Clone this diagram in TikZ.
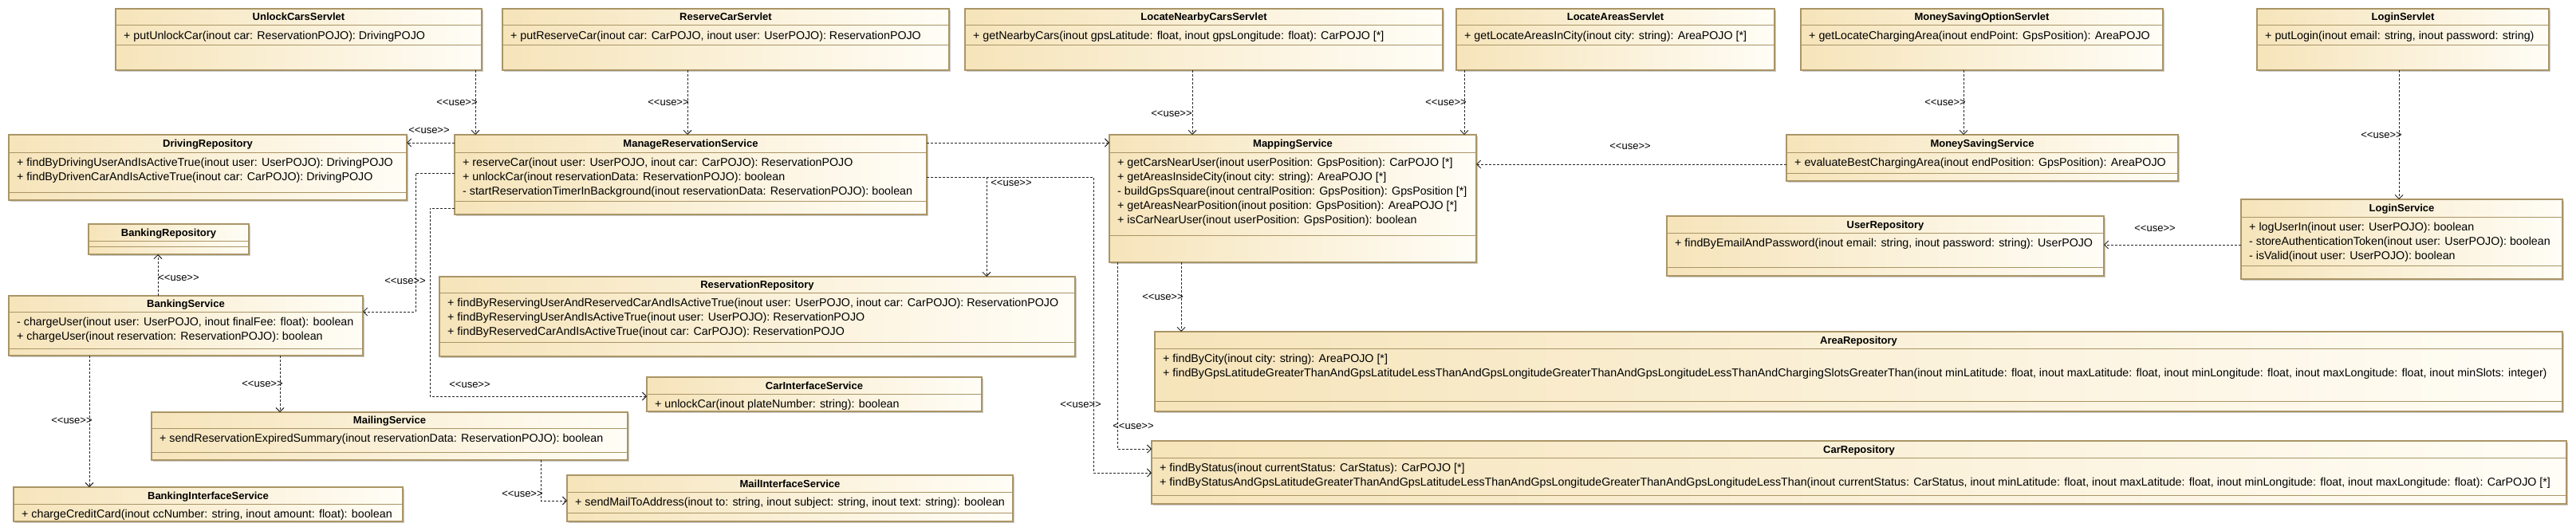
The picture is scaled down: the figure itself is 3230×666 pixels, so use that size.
\documentclass[tikz,border=0pt]{standalone}
\usepackage{fontspec}
\setmainfont{Liberation Sans}[Ligatures=TeXOff]
\usetikzlibrary{arrows.meta}
\definecolor{boxL}{HTML}{F6E4BA}
\definecolor{boxR}{HTML}{FFFDF6}
\definecolor{boxD}{HTML}{AA9566}
\tikzset{
 umlbox/.style={draw=boxD, line width=1.2pt, left color=boxL, right color=boxR, rectangle, inner sep=0pt, outer sep=0pt},
 umlsep/.style={draw=boxD, line width=1pt},
 umlshadow/.style={fill=black!20},
 umltitle/.style={font=\bfseries\fontsize{13}{15}\selectfont, inner sep=0pt},
 umlops/.style={font=\fontsize{14.25}{18}\selectfont, align=left, inner sep=0pt},
 dep/.style={draw=black!85, line width=0.9pt, dash pattern=on 3pt off 2pt, -{Straight Barb[length=5pt,width=10pt,line width=0.9pt]}},
 uselabel/.style={font=\fontsize{13}{13}\selectfont, inner sep=0pt},
}
\newcommand\umlclass[9]{%
  \fill[umlshadow] (#2+2,#3+2) rectangle (#4+2,#5+2);
  \node[umlbox, anchor=north west, minimum width={#4-#2}, minimum height={#5-#3}] (#1) at (#2,#3) {};
  \draw[umlsep] (#2,#6) -- (#4,#6);
  \if\relax\detokenize{#7}\relax\else\draw[umlsep] (#2,#7) -- (#4,#7);\fi
  \node[umltitle, anchor=base] at ({(#2+#4)/2},{(#3+#6)/2+4.5}) {#8};
  \if\relax\detokenize{#9}\relax\else\node[umlops, anchor=north west] at (#2+10,#6+5.5) {\rule{0pt}{12pt}#9};\fi
}
\begin{document}
\begin{tikzpicture}[x=1pt,y=-1pt]
\fill[white] (0,0) rectangle (3230,666);
\useasboundingbox (0,0) rectangle (3230,666);

% ---------- classes ----------
\umlclass{unlock}{145}{11}{604}{88}{32}{57}{UnlockCarsServlet}{+ putUnlockCar(inout car: ReservationPOJO): DrivingPOJO}
\umlclass{reserve}{630}{11}{1190}{88}{32}{57}{ReserveCarServlet}{+ putReserveCar(inout car: CarPOJO, inout user: UserPOJO): ReservationPOJO}
\umlclass{nearby}{1210}{11}{1809}{88}{32}{57}{LocateNearbyCarsServlet}{+ getNearbyCars(inout gpsLatitude: float, inout gpsLongitude: float): CarPOJO [*]}
\umlclass{areas}{1826}{11}{2225}{88}{32}{57}{LocateAreasServlet}{+ getLocateAreasInCity(inout city: string): AreaPOJO [*]}
\umlclass{msopt}{2258}{11}{2712}{88}{32}{57}{MoneySavingOptionServlet}{+ getLocateChargingArea(inout endPoint: GpsPosition): AreaPOJO}
\umlclass{loginsv}{2830}{11}{3196}{88}{32}{57}{LoginServlet}{+ putLogin(inout email: string, inout password: string)}

\umlclass{driving}{11}{169}{510}{251}{191}{241}{DrivingRepository}{+ findByDrivingUserAndIsActiveTrue(inout user: UserPOJO): DrivingPOJO\\+ findByDrivenCarAndIsActiveTrue(inout car: CarPOJO): DrivingPOJO}
\umlclass{mrs}{570}{169}{1162}{269}{191}{252}{ManageReservationService}{+ reserveCar(inout user: UserPOJO, inout car: CarPOJO): ReservationPOJO\\+ unlockCar(inout reservationData: ReservationPOJO): boolean\\- startReservationTimerInBackground(inout reservationData: ReservationPOJO): boolean}
\umlclass{mapping}{1391}{169}{1851}{329}{191}{295}{MappingService}{+ getCarsNearUser(inout userPosition: GpsPosition): CarPOJO [*]\\+ getAreasInsideCity(inout city: string): AreaPOJO [*]\\- buildGpsSquare(inout centralPosition: GpsPosition): GpsPosition [*]\\+ getAreasNearPosition(inout position: GpsPosition): AreaPOJO [*]\\+ isCarNearUser(inout userPosition: GpsPosition): boolean}
\umlclass{mss}{2240}{169}{2731}{227}{191}{217}{MoneySavingService}{+ evaluateBestChargingArea(inout endPosition: GpsPosition): AreaPOJO}
\umlclass{userrepo}{2090}{271}{2638}{346}{292}{335}{UserRepository}{+ findByEmailAndPassword(inout email: string, inout password: string): UserPOJO}
\umlclass{login}{2810}{250}{3213}{350}{272}{333}{LoginService}{+ logUserIn(inout user: UserPOJO): boolean\\- storeAuthenticationToken(inout user: UserPOJO): boolean\\- isValid(inout user: UserPOJO): boolean}
\umlclass{bankrepo}{111}{281}{312}{319}{302}{309}{BankingRepository}{}
\umlclass{bank}{11}{371}{455}{446}{391}{437}{BankingService}{- chargeUser(inout user: UserPOJO, inout finalFee: float): boolean\\+ chargeUser(inout reservation: ReservationPOJO): boolean}
\umlclass{resrepo}{551}{347}{1348}{447}{367}{429}{ReservationRepository}{+ findByReservingUserAndReservedCarAndIsActiveTrue(inout user: UserPOJO, inout car: CarPOJO): ReservationPOJO\\+ findByReservingUserAndIsActiveTrue(inout user: UserPOJO): ReservationPOJO\\+ findByReservedCarAndIsActiveTrue(inout car: CarPOJO): ReservationPOJO}
\umlclass{arearepo}{1448}{416}{3213}{516}{437}{503}{AreaRepository}{+ findByCity(inout city: string): AreaPOJO [*]\\+ findByGpsLatitudeGreaterThanAndGpsLatitudeLessThanAndGpsLongitudeGreaterThanAndGpsLongitudeLessThanAndChargingSlotsGreaterThan(inout minLatitude: float, inout maxLatitude: float, inout minLongitude: float, inout maxLongitude: float, inout minSlots: integer)}
\umlclass{carrepo}{1444}{553}{3218}{632}{574}{621}{CarRepository}{+ findByStatus(inout currentStatus: CarStatus): CarPOJO [*]\\+ findByStatusAndGpsLatitudeGreaterThanAndGpsLatitudeLessThanAndGpsLongitudeGreaterThanAndGpsLongitudeLessThan(inout currentStatus: CarStatus, inout minLatitude: float, inout maxLatitude: float, inout minLongitude: float, inout maxLongitude: float): CarPOJO [*]}
\umlclass{carif}{811}{473}{1231}{516}{494}{}{CarInterfaceService}{+ unlockCar(inout plateNumber: string): boolean}
\umlclass{mailing}{190}{517}{787}{577}{537}{567}{MailingService}{+ sendReservationExpiredSummary(inout reservationData: ReservationPOJO): boolean}
\umlclass{mailif}{711}{596}{1270}{654}{617}{643}{MailInterfaceService}{+ sendMailToAddress(inout to: string, inout subject: string, inout text: string): boolean}
\umlclass{bankif}{17}{611}{505}{654}{632}{}{BankingInterfaceService}{+ chargeCreditCard(inout ccNumber: string, inout amount: float): boolean}

% ---------- helper coordinates ----------
\coordinate (k1) at (596,0);
\coordinate (k2) at (862,0);
\coordinate (k3) at (1495,0);
\coordinate (k4) at (1836,0);
\coordinate (k5) at (2462,0);
\coordinate (k6) at (3008,0);
\coordinate (h7) at (0,206);
\coordinate (h8) at (0,307);
\coordinate (h9) at (0,179);
\coordinate (p10a) at (521,217);
\coordinate (p10b) at (521,391);
\coordinate (p11a) at (539,261);
\coordinate (p11b) at (539,497);
\coordinate (h12) at (0,179);
\coordinate (p13) at (1237,222);
\coordinate (p14a) at (1371,222);
\coordinate (p14b) at (1371,593);
\coordinate (p15) at (1401,563);
\coordinate (k16) at (1481,0);
\coordinate (k17) at (198,0);
\coordinate (k18) at (112,0);
\coordinate (k19) at (351,0);
\coordinate (p20) at (678,628);

% ---------- dependencies ----------
\draw[dep] (unlock.south -| k1) -- (mrs.north -| k1);
\draw[dep] (reserve.south -| k2) -- (mrs.north -| k2);
\draw[dep] (nearby.south -| k3) -- (mapping.north -| k3);
\draw[dep] (areas.south -| k4) -- (mapping.north -| k4);
\draw[dep] (msopt.south -| k5) -- (mss.north -| k5);
\draw[dep] (loginsv.south -| k6) -- (login.north -| k6);
\draw[dep] (mss.west |- h7) -- (mapping.east |- h7);
\draw[dep] (login.west |- h8) -- (userrepo.east |- h8);
\draw[dep] (mrs.west |- h9) -- (driving.east |- h9);
\draw[dep] (mrs.west |- p10a) -- (p10a) -- (p10b) -- (bank.east |- p10b);
\draw[dep] (mrs.west |- p11a) -- (p11a) -- (p11b) -- (carif.west |- p11b);
\draw[dep] (mrs.east |- h12) -- (mapping.west |- h12);
\draw[dep] (mrs.east |- p13) -- (p13) -- (resrepo.north -| p13);
\draw[dep] (mrs.east |- p14a) -- (p14a) -- (p14b) -- (carrepo.west |- p14b);
\draw[dep] (mapping.south -| p15) -- (p15) -- (carrepo.west |- p15);
\draw[dep] (mapping.south -| k16) -- (arearepo.north -| k16);
\draw[dep] (bank.north -| k17) -- (bankrepo.south -| k17);
\draw[dep] (bank.south -| k18) -- (bankif.north -| k18);
\draw[dep] (bank.south -| k19) -- (mailing.north -| k19);
\draw[dep] (mailing.south -| p20) -- (p20) -- (mailif.west |- p20);

% ---------- labels ----------
\node[uselabel] (l1) at (573,129) {<<use>>};
\node[uselabel] (l2) at (838,129) {<<use>>};
\node[uselabel] (l3) at (1469,143) {<<use>>};
\node[uselabel] (l4) at (1813,129) {<<use>>};
\node[uselabel] (l5) at (2439,129) {<<use>>};
\node[uselabel] (l6) at (2986,170) {<<use>>};
\node[uselabel] (l7) at (2044,184) {<<use>>};
\node[uselabel] (l8) at (2702,287) {<<use>>};
\node[uselabel] (l9) at (538,164) {<<use>>};
\node[uselabel] (l10) at (508,353) {<<use>>};
\node[uselabel] (l11) at (589,483) {<<use>>};
\node[uselabel] (l13) at (1268,230) {<<use>>};
\node[uselabel] (l14) at (1355,508) {<<use>>};
\node[uselabel] (l15) at (1421,535) {<<use>>};
\node[uselabel] (l16) at (1458,373) {<<use>>};
\node[uselabel] (l17) at (224,349) {<<use>>};
\node[uselabel] (l18) at (90,528) {<<use>>};
\node[uselabel] (l19) at (329,482) {<<use>>};
\node[uselabel] (l20) at (655,620) {<<use>>};
\end{tikzpicture}
\end{document}
